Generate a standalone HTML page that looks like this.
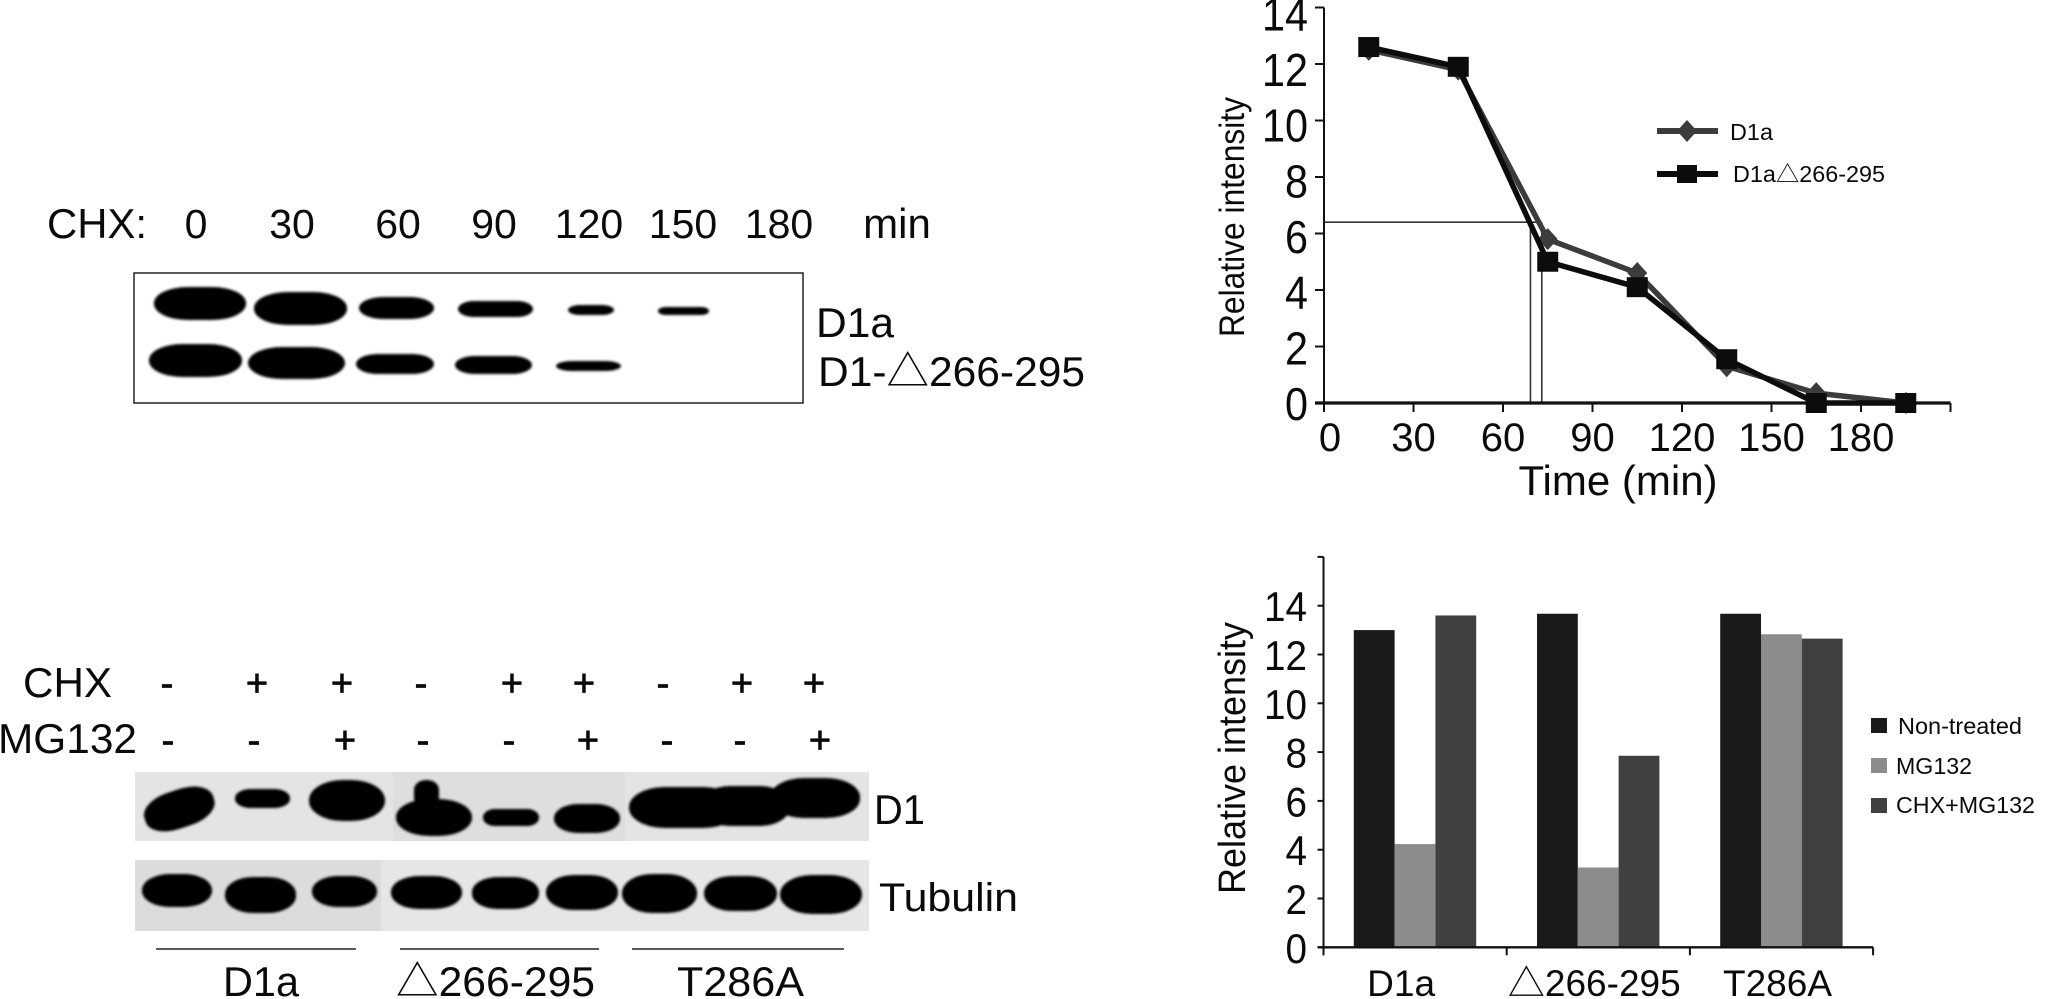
<!DOCTYPE html>
<html lang="en">
<head>
<meta charset="utf-8">
<title>Cyclin D1 degradation blots and quantification</title>
<style>
html,body{margin:0;padding:0;background:#fff;width:2055px;height:999px;overflow:hidden}
svg{display:block}
text{font-family:"Liberation Sans","Noto Sans CJK SC",sans-serif;fill:#0a0a0a}
</style>
</head>
<body>
<svg id="figure" xmlns="http://www.w3.org/2000/svg" width="2055" height="999" viewBox="0 0 2055 999">
<defs>
<filter id="soft" x="-20%" y="-40%" width="140%" height="180%"><feGaussianBlur stdDeviation="1.4"/></filter>
</defs>
<rect width="2055" height="999" fill="#fff"/>

<!-- Top-left blot -->
<g>
<text x="47" y="238" font-size="42" textLength="100" lengthAdjust="spacingAndGlyphs">CHX:</text>
<text x="196" y="238" font-size="41" text-anchor="middle">0</text>
<text x="292" y="238" font-size="41" text-anchor="middle">30</text>
<text x="398" y="238" font-size="41" text-anchor="middle">60</text>
<text x="494" y="238" font-size="41" text-anchor="middle">90</text>
<text x="589" y="238" font-size="41" text-anchor="middle">120</text>
<text x="683" y="238" font-size="41" text-anchor="middle">150</text>
<text x="779" y="238" font-size="41" text-anchor="middle">180</text>
<text x="897" y="238" font-size="42" text-anchor="middle">min</text>
<rect x="134" y="273" width="669" height="130" fill="#fff" stroke="#222" stroke-width="1.5"/>
<g filter="url(#soft)" fill="#050505">
<rect x="154" y="287" width="92" height="33" rx="34" ry="16"/>
<rect x="254" y="292" width="93" height="33" rx="34" ry="16"/>
<rect x="359" y="297" width="75" height="22" rx="24" ry="11"/>
<rect x="458" y="301" width="75" height="16" rx="16" ry="8"/>
<rect x="568" y="305" width="46" height="10" rx="12" ry="5"/>
<rect x="658" y="307" width="51" height="8" rx="8" ry="4"/>
</g>
<g filter="url(#soft)" fill="#050505">
<rect x="149" y="344" width="93" height="33" rx="34" ry="16"/>
<rect x="248" y="347" width="97" height="32" rx="34" ry="16"/>
<rect x="356" y="354" width="78" height="20" rx="22" ry="10"/>
<rect x="455" y="356" width="77" height="18" rx="20" ry="9"/>
<rect x="556" y="361" width="65" height="10" rx="16" ry="5"/>
</g>
<text x="816" y="337" font-size="42" textLength="78" lengthAdjust="spacingAndGlyphs">D1a</text>
<text x="818" y="386" font-size="42" textLength="267" lengthAdjust="spacingAndGlyphs">D1-△266-295</text>
</g>

<!-- Bottom-left blot -->
<g>
<text x="23" y="697" font-size="42" textLength="89" lengthAdjust="spacingAndGlyphs">CHX</text>
<text x="-2" y="753" font-size="42" textLength="139" lengthAdjust="spacingAndGlyphs">MG132</text>
<g font-size="38" text-anchor="middle" stroke="#0a0a0a" stroke-width="0.8">
<text x="167" y="696">-</text>
<text x="257" y="696">+</text>
<text x="342" y="696">+</text>
<text x="421" y="696">-</text>
<text x="512" y="696">+</text>
<text x="584" y="696">+</text>
<text x="663" y="696">-</text>
<text x="742" y="696">+</text>
<text x="814" y="696">+</text>
</g>
<g font-size="38" text-anchor="middle" stroke="#0a0a0a" stroke-width="0.8">
<text x="168" y="753">-</text>
<text x="254" y="753">-</text>
<text x="345" y="753">+</text>
<text x="423" y="753">-</text>
<text x="509" y="753">-</text>
<text x="588" y="753">+</text>
<text x="667" y="753">-</text>
<text x="740" y="753">-</text>
<text x="820" y="753">+</text>
</g>
<rect x="135" y="772" width="734" height="69" fill="#e4e4e4"/>
<rect x="393" y="772" width="232" height="69" fill="#dedede"/>
<g filter="url(#soft)" fill="#050505">
<rect x="143" y="790" width="72" height="38" rx="30" ry="17" transform="rotate(-18 179 808)"/>
<rect x="235" y="789" width="55" height="19" rx="16" ry="9"/>
<rect x="309" y="780" width="76" height="41" rx="34" ry="20"/>
<rect x="396" y="799" width="76" height="37" rx="34" ry="18"/>
<rect x="414" y="780" width="25" height="28" rx="12" ry="10"/>
<rect x="483" y="809" width="56" height="17" rx="12" ry="8"/>
<rect x="554" y="804" width="66" height="29" rx="24" ry="14"/>
<rect x="629" y="787" width="110" height="41" rx="36" ry="20"/>
<rect x="700" y="786" width="90" height="40" rx="30" ry="19"/>
<rect x="770" y="778" width="90" height="40" rx="34" ry="19"/>
</g>
<rect x="135" y="860" width="246" height="71" fill="#dcdcdc"/>
<rect x="381" y="860" width="488" height="71" fill="#e6e6e6"/>
<g filter="url(#soft)" fill="#050505">
<rect x="142" y="874" width="70" height="33" rx="28" ry="16"/>
<rect x="225" y="877" width="71" height="36" rx="28" ry="17"/>
<rect x="312" y="876" width="65" height="31" rx="26" ry="15"/>
<rect x="391" y="876" width="71" height="33" rx="28" ry="16"/>
<rect x="472" y="877" width="67" height="32" rx="26" ry="15"/>
<rect x="546" y="875" width="72" height="35" rx="28" ry="17"/>
<rect x="622" y="874" width="75" height="39" rx="30" ry="19"/>
<rect x="704" y="876" width="73" height="35" rx="28" ry="17"/>
<rect x="780" y="875" width="82" height="39" rx="32" ry="19"/>
</g>
<text x="874" y="824" font-size="42" textLength="51" lengthAdjust="spacingAndGlyphs">D1</text>
<text x="879" y="911" font-size="40" textLength="139" lengthAdjust="spacingAndGlyphs">Tubulin</text>
<line x1="156" x2="356" y1="949" y2="949" stroke="#222" stroke-width="1.6"/>
<line x1="400" x2="599" y1="949" y2="949" stroke="#222" stroke-width="1.6"/>
<line x1="632" x2="844" y1="949" y2="949" stroke="#222" stroke-width="1.6"/>
<text x="223" y="996" font-size="42" textLength="76" lengthAdjust="spacingAndGlyphs">D1a</text>
<text x="396" y="996" font-size="42" textLength="199" lengthAdjust="spacingAndGlyphs">△266-295</text>
<text x="677" y="996" font-size="42" textLength="127" lengthAdjust="spacingAndGlyphs">T286A</text>
</g>

<g id="line-chart"></g>
<g id="bar-chart"></g>
</svg>

<script>
// ---------- line chart data ----------
const lineTimes = [15, 45, 75, 105, 135, 165, 195];
const seriesD1a = [12.5, 11.8, 5.8, 4.6, 1.3, 0.35, 0];
const seriesD1aDelta = [12.6, 11.9, 5.0, 4.1, 1.55, 0, 0];
const lineYTicks = [0, 2, 4, 6, 8, 10, 12, 14];
const lineXTicks = [0, 30, 60, 90, 120, 150, 180, 210];
const lineXLabels = ["0", "30", "60", "90", "120", "150", "180"];
const guideLevel = [6.4];
const guideTimes = [69.2, 73];

// ---------- bar chart data ----------
const barCategories = ["D1a", "△266-295", "T286A"];
const barNonTreated = [13.0, 13.67, 13.67];
const barMG132 = [4.23, 3.27, 12.83];
const barCHXMG132 = [13.6, 7.85, 12.65];
const barYTicks = [0, 2, 4, 6, 8, 10, 12, 14, 16];
const barYLabels = ["0", "2", "4", "6", "8", "10", "12", "14"];

const NS = "http://www.w3.org/2000/svg";
function mk(parent, tag, attrs, txt) {
  const el = document.createElementNS(NS, tag);
  for (const k in attrs) el.setAttribute(k, attrs[k]);
  if (txt !== undefined) el.textContent = txt;
  parent.appendChild(el);
  return el;
}

// ---------- line chart ----------
(function () {
  const g = document.getElementById("line-chart");
  const X = t => 1324 + t * (89.5 / 30);
  const Y = v => 403 - v * 28.25;
  const lineBaseY = 403;

  const guideH = mk(g, "line", { x1: X(0), x2: X(guideTimes[1]), y1: Y(guideLevel[0]), y2: Y(guideLevel[0]), stroke: "#333", "stroke-width": 1.6 });
  
  
  guideTimes.forEach(t => {
    const l = mk(g, "line", { x1: X(t), x2: X(t), y1: Y(guideLevel[0]), y2: lineBaseY, stroke: "#333", "stroke-width": 1.6 });
    
    
  });

  const yAxis = mk(g, "line", { x1: X(0), x2: X(0), y1: Y(14), y2: lineBaseY + 8, stroke: "#111", "stroke-width": 2 });
  
  
  const xAxis = mk(g, "line", { x1: X(0) - 9, x2: X(lineXTicks[7]), y1: lineBaseY, y2: lineBaseY, stroke: "#111", "stroke-width": 3.2 });
  
  

  lineYTicks.forEach(v => {
    const t = mk(g, "line", { x1: X(0) - 9, x2: X(0), y1: Y(v), y2: Y(v), stroke: "#111", "stroke-width": 2 });
    
    
    const s = String(v);
    const lab = mk(g, "text", { x: 1308, y: Y(v * 0.985) + 17, "font-size": 46, "text-anchor": "end", textLength: s.length * 23, lengthAdjust: "spacingAndGlyphs" }, s);
    
    
  });
  lineXTicks.forEach((v, i) => {
    const t = mk(g, "line", { x1: X(v), x2: X(v), y1: lineBaseY, y2: lineBaseY + 9, stroke: "#111", "stroke-width": 2 });
    
    
    if (lineXLabels[i] !== undefined) {
      const lab = mk(g, "text", { x: X(v) + (v === 0 ? 6 : 0), y: 451, "font-size": 40, "text-anchor": "middle" }, lineXLabels[i]);
      
      
    }
  });

  const yTitle = mk(g, "text", { transform: "translate(1244 217) rotate(-90)", "font-size": 35, "text-anchor": "middle", textLength: 240, lengthAdjust: "spacingAndGlyphs" }, "Relative intensity");
  
  
  const xTitle = mk(g, "text", { x: 1618, y: 495, "font-size": 42, "text-anchor": "middle" }, "Time (min)");
  
  

  const pts = s => s.map((v, i) => X(lineTimes[i]) + "," + Y(v)).join(" ");
  const l1 = mk(g, "polyline", { points: pts(seriesD1a), fill: "none", stroke: "#3c3c3c", "stroke-width": 5.5, "stroke-linejoin": "round" });
  
  
  seriesD1a.forEach((v, i) => {
    const cx = X(lineTimes[i]), cy = Y(v);
    const d = mk(g, "polygon", { points: `${cx},${cy - 11} ${cx + 10},${cy} ${cx},${cy + 11} ${cx - 10},${cy}`, fill: "#3c3c3c" });
    
    
  });
  const l2 = mk(g, "polyline", { points: pts(seriesD1aDelta), fill: "none", stroke: "#0c0c0c", "stroke-width": 5.5, "stroke-linejoin": "round" });
  
  
  seriesD1aDelta.forEach((v, i) => {
    const r = mk(g, "rect", { x: X(lineTimes[i]) - 10.5, y: Y(v) - 10, width: 21, height: 20, fill: "#0c0c0c" });
    
    
  });

  const leg1 = mk(g, "line", { x1: 1657, x2: 1718, y1: 131, y2: 131, stroke: "#3c3c3c", "stroke-width": 6 });
  
  
  const legD = mk(g, "polygon", { points: "1687,120 1697,131 1687,142 1677,131", fill: "#3c3c3c" });
  
  
  const legT1 = mk(g, "text", { x: 1730, y: 140, "font-size": 23, textLength: 43, lengthAdjust: "spacingAndGlyphs" }, "D1a");
  
  
  const leg2 = mk(g, "line", { x1: 1657, x2: 1718, y1: 174, y2: 174, stroke: "#0c0c0c", "stroke-width": 6 });
  
  
  const legS = mk(g, "rect", { x: 1677, y: 165, width: 20, height: 18, fill: "#0c0c0c" });
  
  
  const legT2 = mk(g, "text", { x: 1733, y: 182, "font-size": 23, textLength: 152, lengthAdjust: "spacingAndGlyphs" }, "D1a△266-295");
  
  
})();

// ---------- bar chart ----------
(function () {
  const g = document.getElementById("bar-chart");
  const x0 = 1323.5, groupW = 183.2, barW = 40.8, barStart = 30.3;
  const Y = v => 947.3 - v * 24.4;
  const seriesList = [barNonTreated, barMG132, barCHXMG132];
  const seriesColors = ["#1a1a1a", "#8c8c8c", "#404040"];
  const seriesNames = ["bar-non-treated", "bar-mg132", "bar-chx-mg132"];

  seriesList.forEach((vals, s) => {
    vals.forEach((v, c) => {
      const r = mk(g, "rect", { x: x0 + c * groupW + barStart + s * barW, y: Y(v), width: barW, height: Y(0) - Y(v), fill: seriesColors[s] });
      
      
    });
  });

  const yAxis = mk(g, "line", { x1: x0, x2: x0, y1: Y(16), y2: Y(0) + 8, stroke: "#111", "stroke-width": 2 });
  
  
  const xAxis = mk(g, "line", { x1: x0 - 6, x2: x0 + 3 * groupW, y1: Y(0), y2: Y(0), stroke: "#111", "stroke-width": 2.4 });
  
  

  barYTicks.forEach(v => {
    const t = mk(g, "line", { x1: x0 - 6, x2: x0, y1: Y(v), y2: Y(v), stroke: "#111", "stroke-width": 2 });
    
    
  });
  barYLabels.forEach(lbl => {
    const lab = mk(g, "text", { x: 1307, y: Y(Number(lbl)) + 15.5, "font-size": 42, "text-anchor": "end", textLength: lbl.length * 21.5, lengthAdjust: "spacingAndGlyphs" }, lbl);
    
    
  });
  [0, 1, 2, 3].forEach(i => {
    const t = mk(g, "line", { x1: x0 + i * groupW, x2: x0 + i * groupW, y1: Y(0), y2: Y(0) + 8, stroke: "#111", "stroke-width": 2 });
    
    
  });
  barCategories.forEach((c, i) => {
    const lab = mk(g, "text", { x: x0 + (i + 0.5) * groupW - 4 - (i === 0 ? 10 : 0), y: 996, "font-size": 37, "text-anchor": "middle" }, c);
    
    
  });

  const yTitle = mk(g, "text", { transform: "translate(1245 758) rotate(-90)", "font-size": 38, "text-anchor": "middle", textLength: 272, lengthAdjust: "spacingAndGlyphs" }, "Relative intensity");
  
  

  const s1 = mk(g, "rect", { x: 1871, y: 718, width: 16, height: 15, fill: seriesColors[0] });
  
  
  const s2 = mk(g, "rect", { x: 1871, y: 758, width: 16, height: 15, fill: seriesColors[1] });
  
  
  const s3 = mk(g, "rect", { x: 1871, y: 798, width: 16, height: 15, fill: seriesColors[2] });
  
  
  const t1 = mk(g, "text", { x: 1898, y: 734, "font-size": 23, textLength: 124, lengthAdjust: "spacingAndGlyphs" }, "Non-treated");
  
  
  const t2 = mk(g, "text", { x: 1896, y: 774, "font-size": 23, textLength: 76, lengthAdjust: "spacingAndGlyphs" }, "MG132");
  
  
  const t3 = mk(g, "text", { x: 1896, y: 813, "font-size": 23, textLength: 139, lengthAdjust: "spacingAndGlyphs" }, "CHX+MG132");
  
  
})();
</script>
</body>
</html>
